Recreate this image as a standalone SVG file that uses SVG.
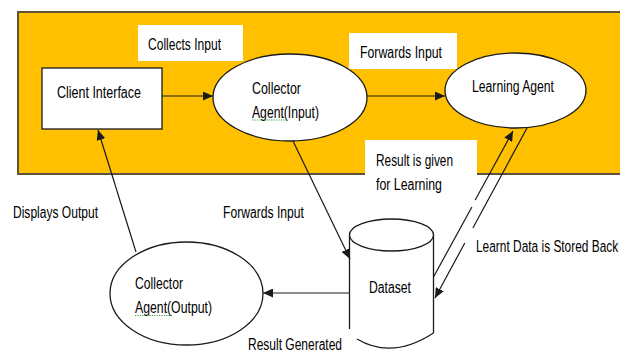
<svg xmlns="http://www.w3.org/2000/svg" width="620" height="353" viewBox="0 0 620 353">
  <defs>
    <style>
      .lbl { font-family: "Liberation Sans", Arial, sans-serif; font-size: 16px; fill: #000000; }
      .shape { fill: #ffffff; stroke: #1a1a1a; stroke-width: 1.3; }
      .conn { fill: none; stroke: #1a1a1a; stroke-width: 1.2; }
      .wbox { fill: #ffffff; stroke: none; }
      .squig { fill: none; stroke: #3aa03a; stroke-width: 1; stroke-dasharray: 1.2 1.2; }
    </style>
    <marker id="ah" markerUnits="userSpaceOnUse" markerWidth="11" markerHeight="9" refX="10" refY="4.5" orient="auto">
      <path d="M0,0 L10,4.5 L0,9 z" fill="#1a1a1a"/>
    </marker>
  </defs>

  <rect width="620" height="353" fill="#ffffff"/>

  <!-- background band -->
  <g id="band">
    <rect x="18" y="12" width="610" height="162" fill="#FFC000" stroke="#5e5238" stroke-width="2"/>
  </g>

  <!-- label boxes -->
  <g id="label-collects">
    <rect class="wbox" x="138" y="25" width="105" height="36"/>
    <text class="lbl" x="148" y="49.5" textLength="73" lengthAdjust="spacingAndGlyphs">Collects Input</text>
  </g>
  <g id="label-forwards-top">
    <rect class="wbox" x="349" y="33" width="108" height="36"/>
    <text class="lbl" x="360" y="57.5" textLength="82" lengthAdjust="spacingAndGlyphs">Forwards Input</text>
  </g>
  <g id="label-result-given">
    <rect class="wbox" x="365" y="140" width="112" height="62"/>
    <text class="lbl" x="376" y="166" textLength="77" lengthAdjust="spacingAndGlyphs">Result is given</text>
    <text class="lbl" x="376" y="190" textLength="66" lengthAdjust="spacingAndGlyphs">for Learning</text>
  </g>

  <!-- nodes -->
  <g id="client-interface">
    <rect class="shape" x="42" y="68" width="120" height="61"/>
    <text class="lbl" x="57" y="97.5" textLength="84" lengthAdjust="spacingAndGlyphs">Client Interface</text>
  </g>

  <g id="collector-input">
    <ellipse class="shape" cx="290" cy="97.5" rx="77" ry="43.5"/>
    <text class="lbl" x="252" y="93.5" textLength="49" lengthAdjust="spacingAndGlyphs">Collector</text>
    <text class="lbl" x="252" y="117.5" textLength="67" lengthAdjust="spacingAndGlyphs">Agent(Input)</text>
    <path class="squig" d="M252,120 L287,120"/>
  </g>

  <g id="learning-agent">
    <ellipse class="shape" cx="515.5" cy="90.5" rx="70.5" ry="37.5"/>
    <text class="lbl" x="472" y="92" textLength="82" lengthAdjust="spacingAndGlyphs">Learning Agent</text>
  </g>

  <g id="dataset">
    <path class="shape" d="M349.5,235 L349.5,329 M433.5,235 L433.5,333"/>
    <path class="conn" d="M357,339 Q392,360 433.5,333"/>
    <ellipse class="shape" cx="391.5" cy="235" rx="42" ry="16"/>
    <text class="lbl" x="369" y="293" textLength="42" lengthAdjust="spacingAndGlyphs">Dataset</text>
  </g>

  <g id="collector-output">
    <ellipse class="shape" cx="186.5" cy="293.5" rx="76.5" ry="51.5"/>
    <text class="lbl" x="135" y="289" textLength="48" lengthAdjust="spacingAndGlyphs">Collector</text>
    <text class="lbl" x="135" y="313" textLength="77" lengthAdjust="spacingAndGlyphs">Agent(Output)</text>
    <path class="squig" d="M135,315.5 L172,315.5"/>
  </g>

  <!-- connectors -->
  <g id="connectors">
    <path class="conn" d="M162,96 L213,96" marker-end="url(#ah)"/>
    <path class="conn" d="M367,96 L445,96" marker-end="url(#ah)"/>
    <path class="conn" d="M293,141 L350,259" marker-end="url(#ah)"/>
    <path class="conn" d="M350,293 L263,293" marker-end="url(#ah)"/>
    <path class="conn" d="M136,252 L98,130" marker-end="url(#ah)"/>
    <path class="conn" d="M433.5,277 L471.9,207 M475.2,200 L513,131" marker-end="url(#ah)"/>
    <path class="conn" d="M527,128 L472.9,228 M464.8,243 L435,298" marker-end="url(#ah)"/>
  </g>

  <!-- free labels -->
  <g id="free-labels">
    <text class="lbl" x="13" y="218" textLength="85" lengthAdjust="spacingAndGlyphs">Displays Output</text>
    <text class="lbl" x="223" y="218" textLength="81" lengthAdjust="spacingAndGlyphs">Forwards Input</text>
    <text class="lbl" x="0" y="0" transform="translate(476,252) scale(1,1.33)" style="font-size:11.9px">Learnt Data is Stored Back</text>
    <text class="lbl" x="248" y="350" textLength="94" lengthAdjust="spacingAndGlyphs">Result Generated</text>
  </g>
</svg>
